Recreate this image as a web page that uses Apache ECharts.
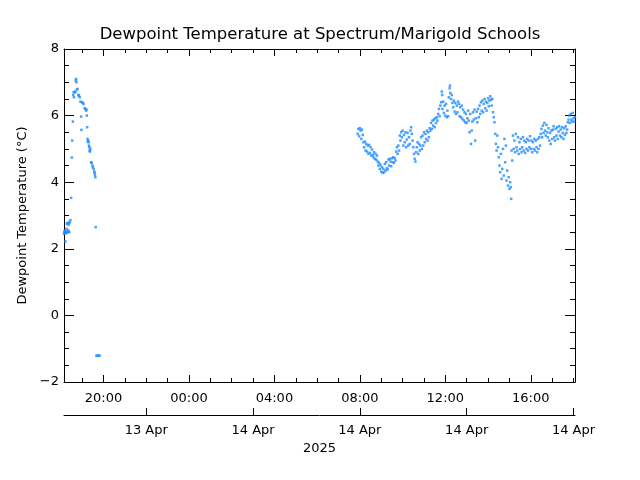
<!DOCTYPE html>
<html>
<head>
<meta charset="utf-8">
<script src="https://cdn.jsdelivr.net/npm/echarts@6/dist/echarts.min.js"></script>
<style>html,body{margin:0;padding:0;background:#fff}#c{width:640px;height:480px}</style>
</head>
<body>
<div id="c"></div>
<script>
// ---- data (minutes of day) ----
// 13 Apr 2025 evening
const eveningMin = [1089,1090,1091,1092,1093,1094,1095,1096,1097,1098,1099,1100,1101,1102,1103,1104,1105,1107,1109,1111,1112,1114,1115,1116,1117,1119,1121,1122,1123,1124,1125,1127,1129,1131,1133,1135,1137,1138,1139,1142,1144,1147,1149,1151,1152,1153,1154,1155,1156,1157,1158,1159,1160,1161,1162,1163,1165,1167,1169,1170,1172,1174,1175,1176,1177,1178,1180,1183,1186,1189];
const eveningVal = [2.45,2.52,2.48,2.55,2.22,2.50,2.47,2.60,2.75,2.50,2.78,2.52,2.56,2.72,2.77,2.50,2.80,2.86,3.53,4.74,5.25,5.82,6.62,6.70,6.55,6.72,6.70,7.05,7.10,7.00,6.78,6.80,6.62,6.60,6.55,6.42,5.97,5.57,6.40,6.38,6.35,6.22,6.20,6.15,6.18,6.00,5.65,5.30,5.22,5.25,5.20,5.10,5.05,4.95,4.92,5.00,4.60,4.58,4.50,4.45,4.40,4.32,4.28,4.22,4.15,2.65,-1.21,-1.21,-1.21,-1.21];
// 14 Apr 2025 daytime
const dayMin = [474,476,478,480,482,484,486,488,490,492,494,496,498,500,502,504,506,508,510,512,514,516,518,520,522,524,526,528,530,532,534,536,538,540,542,544,546,548,550,552,554,556,558,560,562,564,566,568,570,572,574,576,578,580,582,584,586,588,590,592,594,596,598,600,602,604,606,608,610,612,614,616,618,620,622,624,626,628,630,632,634,636,638,640,642,644,646,648,650,652,654,656,658,660,662,664,666,668,670,672,674,676,678,680,682,684,686,688,690,692,694,696,698,700,702,704,706,708,710,711,712,714,716,718,720,722,724,726,728,730,732,733,734,736,738,740,742,744,746,748,750,752,754,756,758,760,762,764,766,768,770,772,774,776,778,780,782,784,786,788,790,792,794,796,798,800,802,804,806,808,810,812,814,816,818,820,822,824,826,828,830,832,834,836,838,840,842,844,846,848,850,852,854,856,858,860,862,864,866,868,870,872,874,876,878,880,882,884,886,888,890,892,894,896,898,900,902,904,905,906,908,910,912,914,916,918,920,922,924,926,928,930,932,934,936,938,940,942,944,946,948,950,952,954,956,958,960,962,964,966,968,970,972,974,976,978,980,982,984,986,988,990,992,994,996,998,1000,1002,1004,1006,1008,1010,1012,1014,1016,1018,1020,1022,1024,1026,1028,1030,1032,1034,1036,1038,1040,1042,1044,1046,1048,1050,1052,1054,1056,1058,1060,1062,1064,1066,1068,1070,1072,1074,1076,1078,1080,1082,1084];
const dayVal = [
  5.45,5.60,5.38,5.62,5.55,5.30,5.58,5.42,5.20,5.05,5.22,4.95,5.15,4.92,5.10,4.85,5.12,4.88,5.05,4.80,4.98,4.82,4.75,4.90,4.70,4.85,4.68,4.80,
  4.62,4.50,4.58,4.40,4.52,4.32,4.45,4.28,4.40,4.30,4.55,4.35,4.60,4.42,4.38,4.68,4.50,4.70,4.62,4.48,4.72,4.60,4.75,4.58,4.72,4.65,
  4.92,5.05,4.85,5.10,4.95,5.40,5.25,5.50,5.35,5.55,5.10,5.42,5.20,5.50,5.05,5.28,5.48,5.10,5.35,5.15,5.55,5.65,5.45,5.25,
  5.05,4.85,4.70,4.62,4.90,5.05,5.20,4.85,5.15,4.95,5.10,5.35,5.00,5.40,5.10,5.50,5.20,5.45,5.30,5.55,5.25,5.50,5.35,5.62,5.55,5.78,5.60,5.85,5.70,5.88,5.65,5.92,5.78,5.95,5.85,6.05,6.20,5.98,6.30,6.40,
  6.72,6.62,6.20,6.42,6.08,6.30,6.00,6.35,5.95,6.15,5.98,6.55,
  6.82,6.90,6.68,
  6.50,6.62,6.38,6.25,6.45,6.12,6.38,6.05,6.30,6.10,6.42,6.35,5.98,6.25,5.95,6.30,5.90,6.18,5.85,6.10,5.80,6.05,5.78,5.92,6.15,5.85,
  5.50,6.05,5.15,5.55,5.82,6.10,5.88,6.18,5.25,5.92,6.12,5.80,6.20,5.95,6.30,6.05,6.40,6.15,6.45,6.10,6.35,6.50,6.22,6.42,6.15,6.38,6.52,6.28,6.45,6.58,6.48,6.30,6.50,
  6.10,5.95,5.80,5.45,5.15,4.95,5.40,5.05,4.75,4.50,4.30,4.85,4.10,4.40,5.00,4.20,5.30,4.60,5.10,4.05,4.35,3.90,4.15,3.80,4.00,3.85,
  3.50,
  4.95,4.65,5.40,5.00,5.25,4.90,5.45,5.05,4.95,5.35,4.85,5.20,5.00,5.30,4.90,5.05,5.35,4.95,5.25,4.88,5.20,5.00,5.30,4.95,5.25,5.05,5.38,5.00,5.25,4.90,5.20,5.00,5.30,4.95,5.25,5.05,4.90,5.30,5.00,5.35,5.10,
  5.45,5.60,5.35,5.70,5.48,5.78,5.55,5.40,5.72,5.50,5.35,5.62,5.25,5.48,5.15,5.55,5.30,5.58,5.68,5.35,5.25,5.60,5.40,5.65,5.30,5.52,5.68,5.40,5.58,5.35,5.65,5.48,5.30,5.62,5.42,5.68,5.48,5.58,5.80,5.88,6.00,5.78,6.05,5.88,5.82,6.08,5.92,5.82,5.95
];

// ---- axis definitions (hours since 13 Apr 00:00) ----
const xMinHour = 18.15, xMaxHour = 42.07;
const majorHours = [20,24,28,32,36,40];
const minorHours = [19,21,22,23,25,26,27,29,30,31,33,34,35,37,38,39,41,42];
const dateTickHours = [22,27,32,37,42];
const dateLabels = ['13 Apr','14 Apr','14 Apr','14 Apr','14 Apr'];
const yearLabel = '2025';
const titleText = 'Dewpoint Temperature at Spectrum/Marigold Schools';
const yName = 'Dewpoint Temperature (°C)';

const points = [];
eveningMin.forEach((m,i)=>points.push([m/60, eveningVal[i]]));
dayMin.forEach((m,i)=>{ if (dayVal[i] !== undefined) points.push([24+m/60, dayVal[i]]); });

const FONT = 'DejaVu Sans';
const lineStyle = {color:'#000', width:1};
const pad = n => (n<10?'0':'')+n;

function xAx(extra){
  return Object.assign({
    type:'value', gridIndex:0, min:xMinHour, max:xMaxHour,
    axisLine:{show:true, onZero:false, lineStyle},
    splitLine:{show:false},
    axisLabel:{show:false},
    axisTick:{show:false}
  }, extra);
}

const option = {
  animation:false,
  backgroundColor:'#fff',
  title:{
    text:titleText, left:'center', top:26, padding:0,
    textStyle:{fontFamily:FONT, fontSize:16.5, fontWeight:'normal', color:'#000'}
  },
  grid:{left:64, top:49, width:511, height:333, containLabel:false, outerBoundsMode:'none'},
  xAxis:[
    xAx({position:'bottom',
      axisTick:{show:true, inside:true, length:7, customValues:majorHours, lineStyle},
      axisLabel:{show:true, customValues:majorHours, margin:10, fontFamily:FONT, fontSize:13, color:'#000',
        formatter:v=>pad(Math.round(v)%24)+':00'}}),
    xAx({position:'bottom', axisLine:{show:false, onZero:false},
      axisTick:{show:true, inside:true, length:4, customValues:minorHours, lineStyle}}),
    xAx({position:'top',
      axisTick:{show:true, inside:true, length:7, customValues:majorHours, lineStyle}}),
    xAx({position:'top', axisLine:{show:false, onZero:false},
      axisTick:{show:true, inside:true, length:4, customValues:minorHours, lineStyle}}),
    xAx({position:'bottom', offset:33,
      axisTick:{show:true, inside:true, length:7, customValues:dateTickHours, lineStyle},
      axisLabel:{show:true, customValues:dateTickHours, margin:9, fontFamily:FONT, fontSize:13, color:'#000',
        formatter:v=>dateLabels[dateTickHours.indexOf(Math.round(v))] || ''},
      name:yearLabel, nameLocation:'middle', nameGap:23,
      nameTextStyle:{fontFamily:FONT, fontSize:13, color:'#000'}})
  ],
  yAxis:[
    {type:'value', gridIndex:0, position:'left', min:-2, max:8, interval:2,
      axisLine:{show:true, onZero:false, lineStyle},
      axisTick:{show:true, inside:true, length:10, lineStyle},
      minorTick:{show:true, splitNumber:4, length:5, lineStyle},
      splitLine:{show:false}, minorSplitLine:{show:false},
      axisLabel:{margin:5, fontFamily:FONT, fontSize:13, color:'#000',
        formatter:v=>(v<0?'\u2212'+(-v):String(v))},
      name:yName, nameLocation:'middle', nameGap:31, nameRotate:90,
      nameTextStyle:{fontFamily:FONT, fontSize:13, color:'#000'}},
    {type:'value', gridIndex:0, position:'right', min:-2, max:8, interval:2,
      axisLine:{show:true, onZero:false, lineStyle},
      axisTick:{show:true, inside:true, length:10, lineStyle},
      minorTick:{show:true, splitNumber:4, length:5, lineStyle},
      splitLine:{show:false}, axisLabel:{show:false}}
  ],
  series:[{
    type:'scatter', xAxisIndex:0, yAxisIndex:0,
    symbol:'rect', symbolSize:2.5,
    itemStyle:{color:'#1e8cff', borderWidth:0},
    data:points
  }]
};
const chart = echarts.init(document.getElementById('c'), null, {renderer:'canvas'});
chart.setOption(option);
</script>
</body>
</html>
